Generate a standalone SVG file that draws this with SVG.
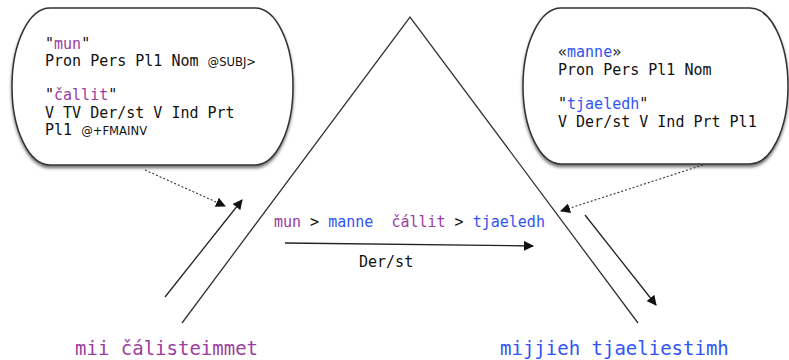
<svg xmlns="http://www.w3.org/2000/svg" width="789" height="360" viewBox="0 0 789 360">
<defs>
<style>
.mono{font-family:"DejaVu Sans Mono","Liberation Mono",monospace;font-size:15px;fill:#111}
.small{font-family:"DejaVu Sans",sans-serif;font-size:11.6px;fill:#111}
.pur{fill:#9b3ea0}
.blu{fill:#2f55f5}
.big{font-family:"DejaVu Sans Mono",monospace;font-size:19px}
.bubble{fill:#fff;stroke:#333;stroke-width:1.5;filter:url(#sh)}
.line{fill:none;stroke:#333;stroke-width:1.3}
.arr{fill:none;stroke:#222;stroke-width:1.3;marker-end:url(#ah)}
.dot{fill:none;stroke:#333;stroke-width:1.1;stroke-dasharray:2 2;marker-end:url(#ah)}
</style>
<marker id="ah" viewBox="0 0 10 10" refX="9" refY="5" markerWidth="10" markerHeight="10" markerUnits="userSpaceOnUse" orient="auto">
<path d="M0,0 L10,5 L0,10 z" fill="#111"/>
</marker>
<filter id="sh" x="-10%" y="-10%" width="120%" height="130%">
<feDropShadow dx="0" dy="2.5" stdDeviation="1.5" flood-color="#000" flood-opacity="0.55"/>
</filter>
</defs>

<g id="left-bubble">
<rect class="bubble" x="12" y="8" width="281" height="157" rx="38" ry="78"/>
<text class="mono" x="45" y="49">"<tspan class="pur">mun</tspan>"</text>
<text class="mono" x="45" y="66">Pron Pers Pl1 Nom <tspan class="small">@SUBJ&gt;</tspan></text>
<text class="mono" x="45" y="100">"<tspan class="pur">čallit</tspan>"</text>
<text class="mono" x="45" y="118">V TV Der/st V Ind Prt</text>
<text class="mono" x="45" y="135">Pl1 <tspan class="small">@+FMAINV</tspan></text>
</g>

<g id="right-bubble">
<rect class="bubble" x="523" y="8" width="265" height="156" rx="38" ry="78"/>
<text class="mono" x="558" y="57">«<tspan class="blu">manne</tspan>»</text>
<text class="mono" x="558" y="75">Pron Pers Pl1 Nom</text>
<text class="mono" x="558" y="109">"<tspan class="blu">tjaeledh</tspan>"</text>
<text class="mono" x="558" y="127">V Der/st V Ind Prt Pl1</text>
</g>

<g id="triangle">
<polyline class="line" points="182,323 410,17 638,323"/>
</g>

<g id="connectors">
<line class="arr" x1="165" y1="297" x2="242" y2="200"/>
<line class="dot" x1="145" y1="170" x2="225" y2="206"/>
<line class="arr" x1="285" y1="243" x2="533" y2="246"/>
<line class="dot" x1="703" y1="165" x2="561" y2="211"/>
<line class="arr" x1="585" y1="215" x2="656" y2="305"/>
</g>

<g id="middle-label">
<text class="mono" x="274" y="227" xml:space="preserve"><tspan class="pur">mun</tspan> &gt; <tspan class="blu">manne</tspan>  <tspan class="pur">čállit</tspan> &gt; <tspan class="blu">tjaeledh</tspan></text>
<text class="mono" x="359" y="267">Der/st</text>
</g>

<g id="bottom-left">
<text class="big pur" x="75" y="355">mii čálisteimmet</text>
</g>
<g id="bottom-right">
<text class="big blu" x="500" y="355">mijjieh tjaeliestimh</text>
</g>
</svg>
